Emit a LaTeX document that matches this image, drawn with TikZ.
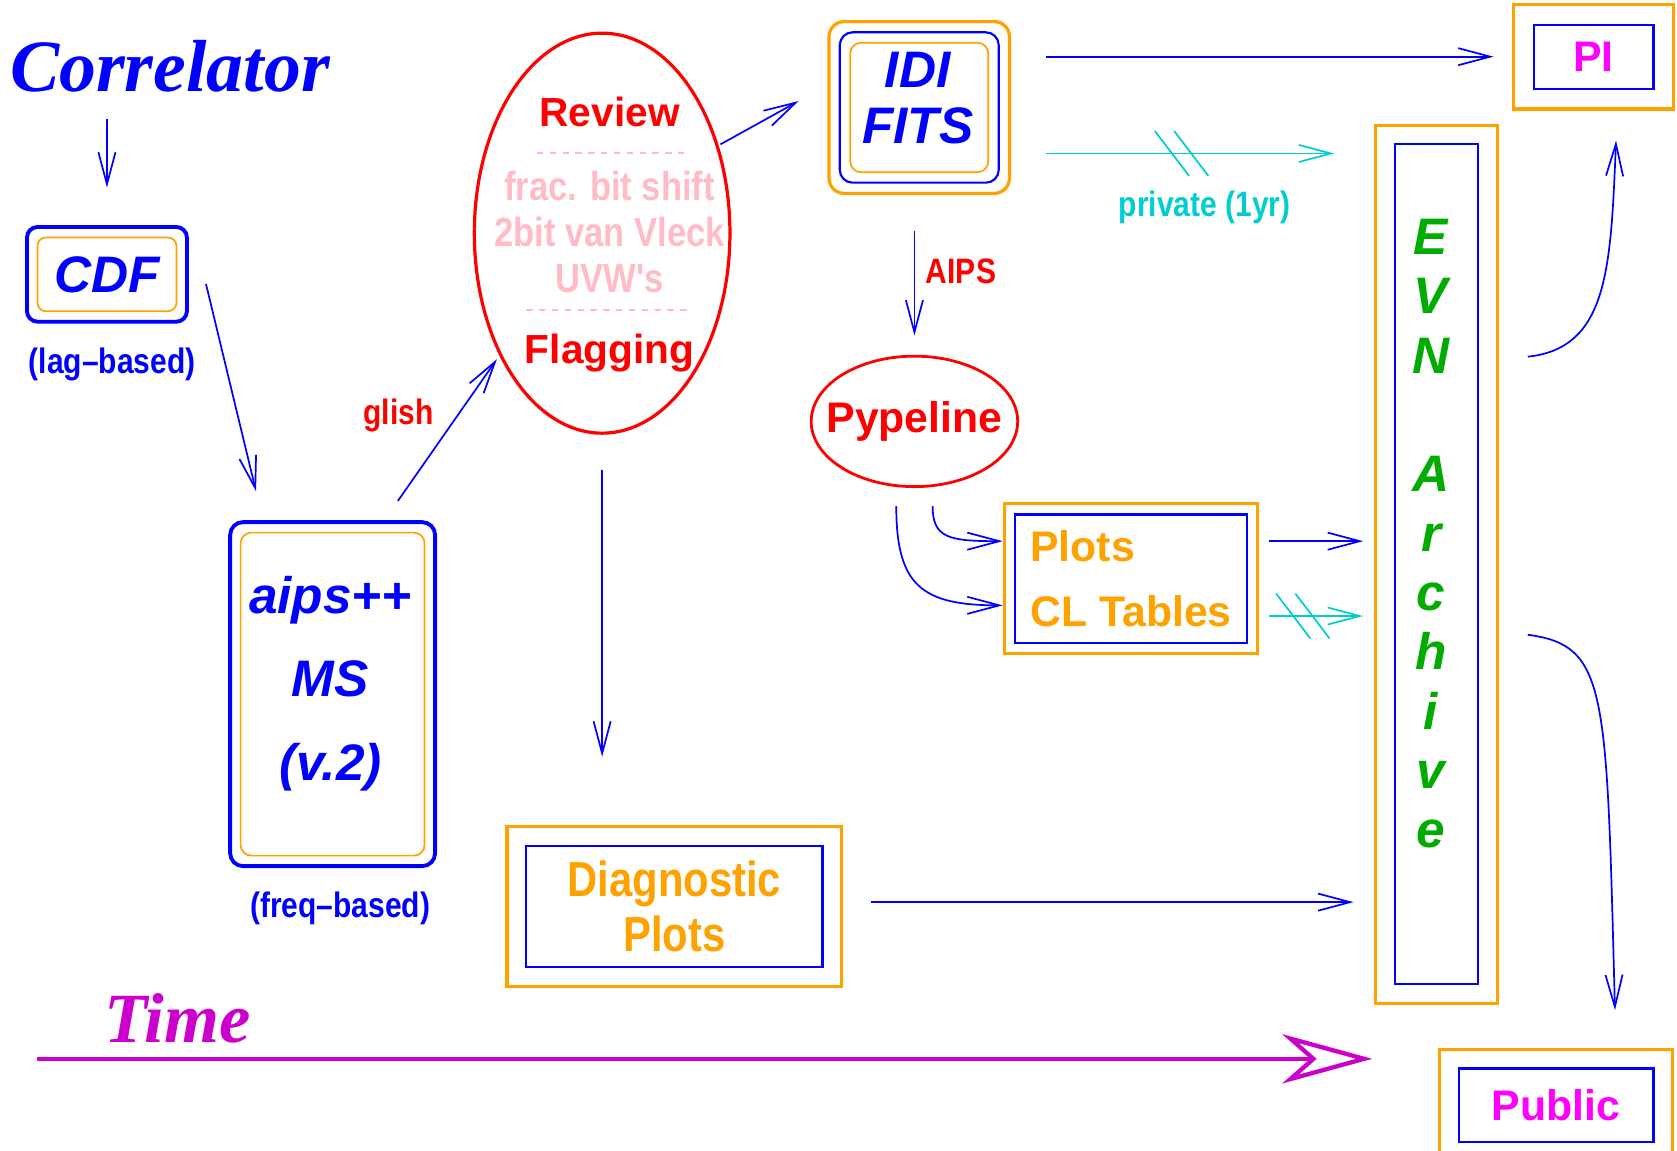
\documentclass[tikz,border=0pt]{standalone}
\usepackage{fontspec}
\setmainfont{Liberation Sans}
\newfontfamily\narrowsf[FakeStretch=0.85]{Liberation Sans}
\newfontfamily\timesrm{Liberation Serif}
\usepackage{xcolor}
\usepackage{tikz}
\usetikzlibrary{arrows.meta,shapes.geometric,fit,calc}

\definecolor{evnblue}{RGB}{0,0,255}
\definecolor{evnorange}{RGB}{255,162,0}
\definecolor{evnred}{RGB}{255,0,0}
\definecolor{evnpink}{RGB}{255,188,196}
\definecolor{evncyan}{RGB}{0,205,210}
\definecolor{evngreen}{RGB}{0,172,0}
\definecolor{evnmag}{RGB}{255,0,255}
\definecolor{timemag}{RGB}{204,0,204}

\begin{document}
\begin{tikzpicture}[x=0.5pt,y=-0.5pt,
  flow/.style={evnblue,line width=0.8pt,-{Straight Barb[length=15pt,width=8pt]}},
  privflow/.style={evncyan,line width=0.8pt,-{Straight Barb[length=15pt,width=8pt]}},
  inbox/.style={draw=evnblue,line width=1pt,inner sep=0pt},
  outbox/.style={draw=evnorange,line width=1.5pt,inner sep=8.5pt},
  titlefont/.style={font=\fontsize{24}{26}\selectfont\bfseries\itshape,text=evnblue},
  smalllab/.style={font=\fontsize{16.5}{18}\selectfont\narrowsf\bfseries,inner sep=0pt},
  sepline/.style={evnpink,line width=0.8pt,dash pattern=on 3pt off 3pt}]
\useasboundingbox (0,0) rectangle (1568,1076);

% correlator and CDF
\node[anchor=base,inner sep=0pt,text=evnblue,font=\fontsize{34.5}{38}\selectfont\timesrm\bfseries\itshape] (corr) at (159,86) {Correlator};
\node[draw=evnorange,line width=0.8pt,rounded corners=4pt,minimum width=65pt,minimum height=34.5pt,titlefont] (cdfin) at (100,256.5) {CDF};
\node[draw=evnblue,line width=1.8pt,rounded corners=5pt,inner sep=4.5pt,fit=(cdfin)] (cdf) {};
\node[smalllab,text=evnblue] (lag) at (105,341) {(lag–based)};

% aips++ MS
\node[draw=evnorange,line width=0.8pt,rounded corners=5pt,minimum width=86pt,minimum height=151pt] (aipsin) at (311,649) {};
\node[draw=evnblue,line width=1.8pt,rounded corners=6pt,inner sep=4.5pt,fit=(aipsin)] (aips) {};
\node[inner sep=0pt,align=center,font=\fontsize{24}{39}\selectfont\bfseries\itshape,text=evnblue] (aipslab) at (309,639) {aips++\\MS\\(v.2)};
\node[smalllab,text=evnblue] (freq) at (318,849) {(freq–based)};

% review ellipse
\node[draw=evnred,line width=1.5pt,ellipse,minimum width=119.5pt,minimum height=187pt,inner sep=0pt] (review) at (563,218) {};
{\bfseries\fontsize{19}{21}\selectfont
\node[inner sep=0pt,text=evnred] (rev) at (570,105) {Review};
\node[inner sep=0pt,text=evnred] (flag) at (570,330) {Flagging};
}
{\narrowsf\bfseries\fontsize{19}{21}\selectfont
\node[inner sep=0pt,text=evnpink] (frac) at (570,174) {frac. bit shift};
\node[inner sep=0pt,text=evnpink] (vleck) at (570,217) {2bit van Vleck};
\node[inner sep=0pt,text=evnpink] (uvw) at (570,261) {UVW's};
}
\draw[sepline] (502,143) -- (640,143);
\draw[sepline] (492,290) -- (644,290);

% IDI FITS
\node[draw=evnorange,line width=0.8pt,rounded corners=5pt,minimum width=64.5pt,minimum height=60.5pt] (idiin) at (859.5,100.5) {};
\node[draw=evnblue,line width=1pt,rounded corners=6pt,inner sep=4.5pt,fit=(idiin)] (idimid) {};
\node[draw=evnorange,line width=1.5pt,rounded corners=7pt,inner sep=4.5pt,fit=(idimid)] (idi) {};
\node[inner sep=0pt,align=center,font=\fontsize{24}{26}\selectfont\bfseries\itshape,text=evnblue] (idilab) at (858,92) {IDI\\FITS};

% Pypeline
\node[draw=evnred,line width=1.3pt,ellipse,minimum width=95pt,minimum height=61pt,inner xsep=-7pt,inner ysep=0pt,
  text=evnred,font=\fontsize{20}{22}\selectfont\bfseries] (pype) at (855,394) {Pypeline};

% products
\node[inbox,minimum width=108.5pt,minimum height=60pt,align=left,text=evnorange,
  font=\fontsize{20}{30.5}\selectfont\bfseries] (plotsin) at (1057.5,541) {Plots\\CL Tables};
\node[outbox,inner sep=4.5pt,fit=(plotsin)] (plots) {};
\node[inbox,minimum width=138.5pt,minimum height=56.5pt,align=center,text=evnorange,
  font=\fontsize{23}{26}\selectfont\narrowsf\bfseries] (diagin) at (630.5,847.5) {Diagnostic\\Plots};
\node[outbox,fit=(diagin)] (diag) {};

% archive, PI, public
\node[inbox,minimum width=39pt,minimum height=392.5pt] (arcin) at (1343,527.5) {};
\node[outbox,fit=(arcin)] (arc) {};
\node[inner sep=0pt,align=center,text=evngreen,font=\fontsize{24}{27.75}\selectfont\bfseries\itshape] (arctxt) at (1338,499)
  {E\\V\\N\\[27.75pt]A\\r\\c\\h\\i\\v\\e};
\node[inbox,minimum width=56pt,minimum height=30pt,text=evnmag,font=\fontsize{20}{22}\selectfont\bfseries] (piin) at (1490,53) {PI};
\node[outbox,inner sep=9pt,fit=(piin)] (pi) {};
\node[inbox,minimum width=91pt,minimum height=34.5pt,text=evnmag,font=\fontsize{20}{22}\selectfont\bfseries] (pubin) at (1455,1033.5) {Public};
\node[outbox,fit=(pubin)] (pub) {};

% arrows
\draw[flow,shorten <=12pt,shorten >=17.5pt] (corr.south -| cdf.north) -- (cdf.north);
\draw[flow] ([shift={(16,9)}]cdf.east) -- ([shift={(26,-27)}]aips.north west);
\draw[flow,shorten >=2pt] ([shift={(61,-18)}]aips.north) -- (review.230)
  node[pos=0.59,left=11pt,smalllab,text=evnred] {glish};
\draw[flow,shorten <=1pt] (review.37) -- ([shift={(-27,-6)}]idi.west);
\draw[flow,shorten <=16.5pt,shorten >=32pt] (review.south) -- (review.south |- diag.north);
\draw[flow,shorten <=16.5pt,shorten >=8.5pt] (idi.east |- pi.west) -- (pi.west);
\draw[privflow] ([shift={(33,43)}]idi.east) -- ($(arc.west |- idi.east)+(-37,43)$)
  coordinate[pos=0.47] (cutA) node[pos=0.55,below=17pt,smalllab,text=evncyan] {private (1yr)};
\draw[flow,shorten <=17pt,shorten >=9pt] (idi.south -| pype.north) -- (pype.north)
  node[pos=0.48,right=5pt,smalllab,text=evnred] {AIPS};
\draw[flow] ([shift={(17,17)}]pype.south) .. controls +(0,30) and +(-50,0) .. ([shift={(0,-35)}]plots.west);
\draw[flow] ([shift={(-17,17)}]pype.south) .. controls +(0,75) and +(-75,0) .. ([shift={(0,25)}]plots.west);
\draw[flow] ([shift={(9,-35)}]plots.east) -- ($(arc.west |- plots.east)+(-10,-35)$);
\draw[privflow] ([shift={(9,35)}]plots.east) -- ($(arc.west |- plots.east)+(-10,35)$) coordinate[pos=0.36] (cutB);
\draw[flow] ([shift={(26,-4)}]diag.east) -- ($(arc.west |- diag.east)+(-19,-4)$);
\draw[flow] ([shift={(27,-194)}]arc.east) .. controls +(75,-8) and +(-5,120) .. ([shift={(21,28)}]pi.south);
\draw[flow] ([shift={(27,66)}]arc.east) .. controls +(75,10) and +(-8,-300) .. ([shift={(55,-35)}]pub.north);

% break marks on the private arrows
\foreach \c in {cutA,cutB}
  \foreach \d in {-9,9}
    \draw[evncyan,line width=0.8pt] ([shift={(\d-16,-21)}]\c) -- ([shift={(\d+16,21)}]\c);

% time axis
\node[anchor=base,inner sep=0pt,text=timemag,font=\fontsize{33}{36}\selectfont\timesrm\bfseries\itshape] (time) at (166,975) {Time};
\coordinate (t0) at (35,990);
\coordinate (t1) at (1283,990);
\draw[timemag,line width=2pt,-{Stealth[open,length=42pt,width=23pt,inset=13pt]}] (t0) -- (t1);
\end{tikzpicture}
\end{document}
